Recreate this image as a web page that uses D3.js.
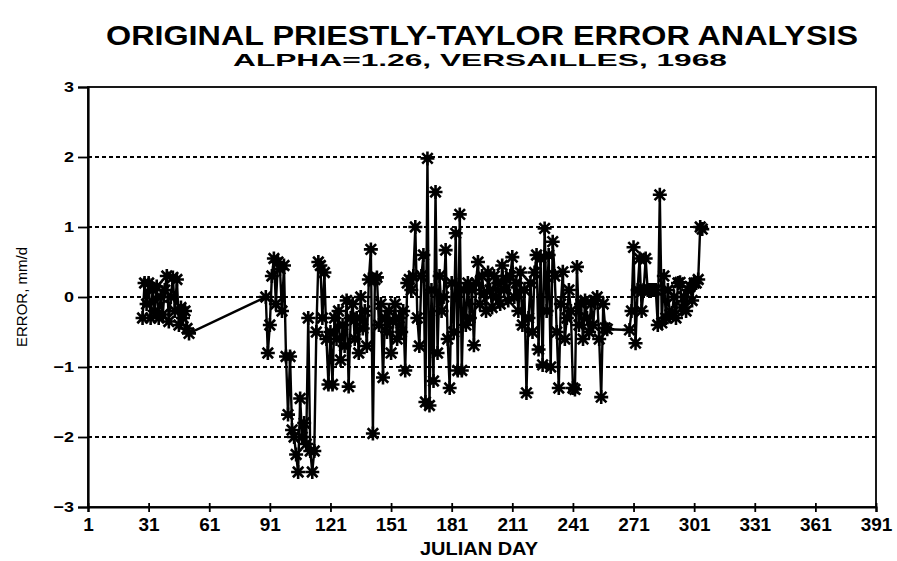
<!DOCTYPE html>
<html>
<head>
<meta charset="utf-8">
<script src="https://d3js.org/d3.v7.min.js"></script>
<style>
  * { margin: 0; padding: 0; }
  body { background: #fff; width: 897px; height: 561px; overflow: hidden; font-family: 'Liberation Sans', Arial, sans-serif; }
  svg { display: block; }
  .title { font-weight: 900; fill: #000; }
  .tick text { font-weight: 700; fill: #000; }
  .axis-label { fill: #000; }
</style>
</head>
<body>
<div id="chart"></div>
<script>
  const titleText = "ORIGINAL PRIESTLY-TAYLOR ERROR ANALYSIS";
  const subtitleText = "ALPHA=1.26, VERSAILLES, 1968";
  const xTicks = [1, 31, 61, 91, 121, 151, 181, 211, 241, 271, 301, 331, 361, 391];
  const yTicks = [-3, -2, -1, 0, 1, 2, 3];

  // days with an observation (julian day) and the error in mm/d
  const days = [
    28,29,30,31,32,33,34,35,36,37,38,39,40,41,42,43,44,45,46,47,48,49,50,51,
    89,90,91,92,93,94,95,96,97,98,99,100,101,102,103,104,105,106,107,108,109,110,
    111,112,113,114,115,116,117,118,119,120,121,122,123,124,125,126,127,128,129,130,
    131,132,133,134,135,136,137,138,139,140,141,142,143,144,145,146,147,148,149,150,
    151,152,153,154,155,156,157,158,159,160,161,162,163,164,165,166,167,168,169,170,
    171,172,173,174,175,176,177,178,179,180,181,182,183,184,185,186,187,188,189,190,
    191,192,193,194,195,196,197,198,199,200,201,202,203,204,205,206,207,208,209,210,
    211,212,213,214,215,216,217,218,219,220,221,222,223,224,225,226,227,228,229,230,
    231,232,233,234,235,236,237,238,239,240,241,242,243,244,245,246,247,248,249,250,
    251,252,253,254,255,256,257,258,269,270,271,272,273,274,275,276,277,278,279,280,
    281,282,283,284,285,286,287,288,289,290,291,292,293,294,295,296,297,298,299,300,
    301,302,303,304,305
  ];
  const errors = [
    -0.3,0.2,-0.1,0.2,-0.3,0.1,-0.2,0.15,-0.3,0.0,-0.25,0.1,0.3,-0.35,0.0,0.28,-0.2,0.25,-0.4,-0.15,-0.3,-0.2,-0.45,-0.52,
    0.0,-0.8,-0.4,0.3,0.55,-0.1,0.5,0.4,-0.2,0.45,-0.85,-1.68,-0.85,-1.9,-2.0,-2.25,-2.5,-1.45,-2.0,-1.8,-2.1,-0.3,
    -2.2,-2.5,-2.2,-0.5,0.5,0.45,-0.3,0.35,-0.6,-1.25,-0.5,-1.25,-0.3,-0.6,-0.2,-0.9,-0.4,-0.7,-0.05,-1.28,
    -0.3,-0.1,-0.6,-0.3,-0.8,0.0,-0.45,-0.2,-0.7,0.25,0.68,-1.95,0.25,0.28,-0.4,-0.1,-1.15,-0.3,-0.5,-0.2,
    -0.8,-0.35,-0.1,-0.6,-0.3,-0.5,-0.2,-1.05,0.2,0.25,0.1,0.3,1.0,-0.3,-0.7,0.3,0.6,-1.5,1.98,-1.55,
    0.1,-1.2,1.5,-0.8,0.3,-0.2,0.0,0.67,-0.6,-1.3,0.2,-0.5,0.91,-1.05,1.18,-1.05,0.1,-0.4,0.2,-0.3,
    0.1,-0.69,0.2,0.5,-0.1,0.3,0.05,-0.2,0.35,0.1,-0.15,0.3,0.0,0.2,-0.1,0.45,0.1,0.25,-0.05,0.3,
    0.57,0.0,0.2,-0.2,0.35,-0.4,0.1,-1.37,-0.3,0.2,-0.5,0.35,0.6,-0.75,0.55,-0.97,0.98,-0.2,0.6,-1.0,
    0.79,0.3,-0.5,-1.3,-0.1,0.36,-0.6,-0.3,0.1,-0.2,-1.3,-1.32,0.43,-0.4,-0.1,-0.6,-0.05,-0.3,-0.5,-0.1,
    -0.4,-0.05,0.0,-0.6,-1.43,-0.1,-0.44,-0.46,-0.47,-0.2,0.71,-0.66,0.1,0.55,-0.2,0.1,0.55,0.1,0.1,0.1,
    0.1,0.1,-0.4,1.46,-0.37,0.3,-0.3,0.1,-0.25,-0.23,0.0,-0.3,0.2,0.21,-0.15,0.0,-0.2,0.1,0.15,-0.05,
    0.2,0.2,0.25,1.0,0.97
  ];

  const data = days.map((d, i) => ({ day: d, err: errors[i] }));

  const W = 897, H = 561;
  const svg = d3.select("#chart").append("svg").attr("width", W).attr("height", H);

  const x = d3.scaleLinear().domain([1, 391]).range([88, 876]);
  const y = d3.scaleLinear().domain([-3, 3]).range([507, 87]);

  // titles
  svg.append("text").attr("class", "title")
    .attr("x", 482).attr("y", 45).attr("text-anchor", "middle")
    .attr("font-size", 27).attr("textLength", 752).attr("lengthAdjust", "spacingAndGlyphs")
    .text(titleText);
  svg.append("text").attr("class", "title")
    .attr("x", 480).attr("y", 66).attr("text-anchor", "middle")
    .attr("font-size", 17).attr("textLength", 494).attr("lengthAdjust", "spacingAndGlyphs")
    .text(subtitleText);

  // dashed grid lines
  svg.append("g").selectAll("line")
    .data(yTicks.filter(t => t > -3 && t < 3))
    .join("line")
    .attr("x1", x(1)).attr("x2", x(391))
    .attr("y1", d => y(d)).attr("y2", d => y(d))
    .attr("stroke", "#000").attr("stroke-width", 1.8)
    .attr("stroke-dasharray", "4,3");

  // frame
  svg.append("rect")
    .attr("x", x(1)).attr("y", y(3))
    .attr("width", x(391) - x(1)).attr("height", y(-3) - y(3))
    .attr("fill", "none").attr("stroke", "#000").attr("stroke-width", 1.8);

  // axes
  const xAxis = svg.append("g")
    .attr("transform", `translate(0,${y(-3)})`)
    .call(d3.axisBottom(x).tickValues(xTicks).tickFormat(d3.format("d")).tickSize(5).tickPadding(4));
  const yAxis = svg.append("g")
    .attr("transform", `translate(${x(1)},0)`)
    .call(d3.axisLeft(y).tickValues(yTicks).tickFormat(d3.format("d")).tickSize(10).tickPadding(3));
  [xAxis, yAxis].forEach(a => {
    a.select(".domain").attr("stroke-width", 2.2);
    a.selectAll(".tick line").attr("stroke-width", 1.8);
    a.attr("font-family", null).attr("font-size", null);
  });
  xAxis.selectAll(".tick line").attr("y1", -4);
  xAxis.selectAll(".tick text").attr("font-size", 19).attr("dy", "0.8em");
  yAxis.selectAll(".tick text").attr("font-size", 15)
    .attr("x", 0).attr("transform", "translate(-14,0) scale(1.2,1)");

  svg.append("text").attr("class", "axis-label")
    .attr("x", 479).attr("y", 555).attr("text-anchor", "middle")
    .attr("font-size", 18).attr("font-weight", 700)
    .attr("textLength", 118).attr("lengthAdjust", "spacingAndGlyphs")
    .text("JULIAN DAY");
  svg.append("text").attr("class", "axis-label")
    .attr("transform", `translate(27,${y(0)}) rotate(-90)`)
    .attr("text-anchor", "middle").attr("font-size", 15)
    .text("ERROR, mm/d");

  // series line
  const line = d3.line().x(d => x(d.day)).y(d => y(d.err));
  svg.append("path").datum(data)
    .attr("d", line).attr("fill", "none")
    .attr("stroke", "#000").attr("stroke-width", 2.4);

  // asterisk markers
  const r = 7;
  const star = `M${-r},0L${r},0M0,${-r}L0,${r}M${-r*0.75},${-r*0.75}L${r*0.75},${r*0.75}M${-r*0.75},${r*0.75}L${r*0.75},${-r*0.75}`;
  svg.append("g").selectAll("path")
    .data(data)
    .join("path")
    .attr("transform", d => `translate(${x(d.day)},${y(d.err)})`)
    .attr("d", star)
    .attr("stroke", "#000").attr("stroke-width", 2.6).attr("fill", "none");
</script>
</body>
</html>
